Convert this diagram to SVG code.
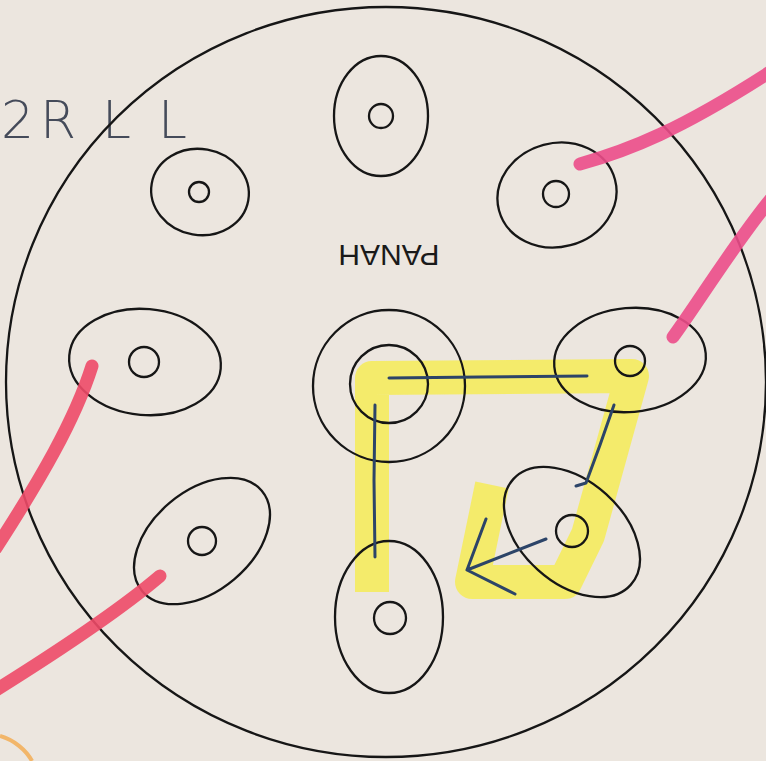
<svg xmlns="http://www.w3.org/2000/svg" width="766" height="761" viewBox="0 0 766 761">
<defs>
<style>
.ln{fill:none;stroke:#161616;stroke-width:2.3}
.hl{fill:none;stroke:#f6ec4e;stroke-opacity:0.8;stroke-linejoin:round;stroke-linecap:butt}
.pen{fill:none;stroke:#2c4468;stroke-width:3;stroke-linecap:round;stroke-linejoin:round}
.pink{fill:none;stroke:#ec4c8a;stroke-width:13;stroke-linecap:round;stroke-opacity:0.9}
.red{fill:none;stroke:#ee4a68;stroke-width:13;stroke-linecap:round;stroke-opacity:0.9}
.lbl{font-family:"Liberation Sans",Arial,sans-serif;fill:#1a1a1a}
.hand{font-family:"DejaVu Sans",sans-serif;font-weight:200;fill:#454b5a}
</style>
</defs>
<rect width="766" height="761" fill="#ece6df"/>
<text class="hand" x="1 40 102 158" y="138" font-size="52">2RLL</text>
<ellipse class="ln" cx="386" cy="382" rx="380" ry="375"/>
<g id="hilite">
<polyline class="hl" stroke-width="34" points="372,592 372,378 632,376 588,535 565,582 472,582 492,485"/>
</g>
<g id="node-top"><ellipse class="ln" cx="381" cy="116" rx="47" ry="60"/><circle class="ln" cx="381" cy="116" r="12"/></g>
<g id="node-top-left"><ellipse class="ln" cx="200" cy="192" rx="49" ry="43" transform="rotate(10 200 192)"/><circle class="ln" cx="199" cy="192" r="10"/></g>
<g id="node-top-right"><ellipse class="ln" cx="557" cy="195" rx="60" ry="52" transform="rotate(-15 557 195)"/><circle class="ln" cx="556" cy="194" r="13"/></g>
<g id="node-left"><ellipse class="ln" cx="145" cy="362" rx="76" ry="53" transform="rotate(5 145 362)"/><circle class="ln" cx="144" cy="362" r="15"/></g>
<g id="node-center"><circle class="ln" cx="389" cy="386" r="76"/><circle class="ln" cx="389" cy="384" r="39"/></g>
<g id="node-right"><ellipse class="ln" cx="630" cy="360" rx="76" ry="52" transform="rotate(-5 630 360)"/><circle class="ln" cx="630" cy="361" r="15"/></g>
<g id="node-bottom-left"><ellipse class="ln" cx="202" cy="541" rx="78" ry="50" transform="rotate(-40 202 541)"/><circle class="ln" cx="202" cy="541" r="14"/></g>
<g id="node-bottom-right"><ellipse class="ln" cx="572" cy="532" rx="79" ry="51" transform="rotate(42 572 532)"/><circle class="ln" cx="572" cy="531" r="16"/></g>
<g id="node-bottom"><ellipse class="ln" cx="389" cy="617" rx="54" ry="76"/><circle class="ln" cx="390" cy="618" r="16"/></g>
<text class="lbl" x="389" y="267" font-size="30" text-anchor="middle" transform="rotate(180 389 256)">PANAH</text>
<g id="connectors">
<path class="pen" d="M375,557 L374,480 L375,405"/>
<path class="pen" d="M389,378 L480,377 L587,376"/>
<path class="pen" d="M614,405 L600,445 L586,483 L576,486"/>
<path class="pen" d="M546,539 L467,570 M486,519 L467,570 L515,594"/>
</g>
<g id="marks">
<path class="pink" d="M580,164 C630,150 680,130 770,72"/>
<path class="pink" d="M673,337 C700,300 730,250 770,200"/>
<path class="red" d="M92,366 C75,420 40,480 -4,548"/>
<path class="red" d="M160,576 C120,610 60,650 -4,690"/>
<path d="M0,736 C14,740 26,750 32,761" fill="none" stroke="#f2b66a" stroke-width="4"/>
</g>
</svg>
